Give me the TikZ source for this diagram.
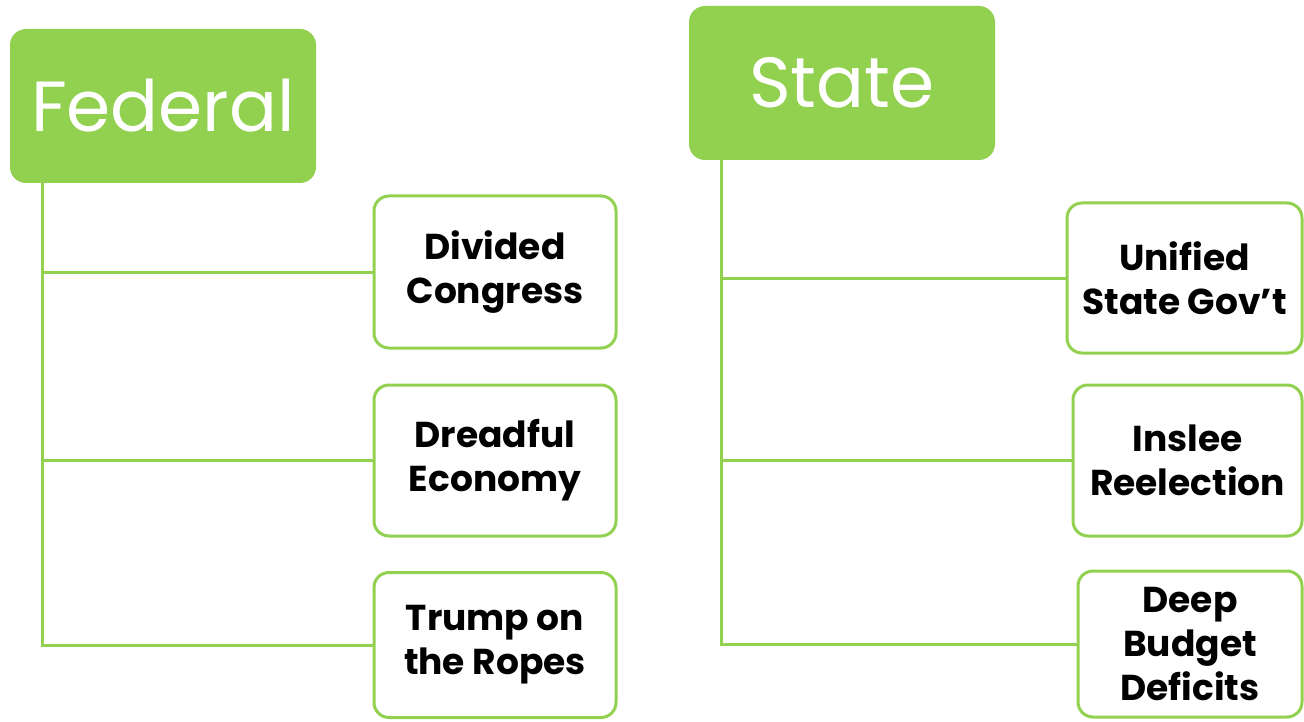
\documentclass[tikz,border=0pt]{standalone}
\usepackage{fontspec}
\setmainfont{Poppins}
\definecolor{grn}{RGB}{146,208,80}
\begin{document}
\begin{tikzpicture}[x=1pt,y=-1pt,
 head/.style={fill=grn, rounded corners=16pt, text=white, font=\fontsize{71}{75}\selectfont, inner sep=0pt},
 item/.style={draw=grn, line width=3pt, rounded corners=15pt, fill=white, align=center, font=\bfseries\fontsize{36}{44}\selectfont, inner sep=0pt},
 conn/.style={draw=grn, line width=3pt}]
\useasboundingbox (0,0) rectangle (1304,722);
\node[head, minimum width=306pt, minimum height=154pt] (fed) at (163,106) {Federal};
\node[head, minimum width=306pt, minimum height=154pt] (st) at (842,83) {State};
\coordinate (fb) at (42,183);
\coordinate (sb) at (721,160);
\node[item, minimum width=242pt, minimum height=152pt] (f1) at (495,272) {Divided\\Congress};
\node[item, minimum width=242pt, minimum height=151pt] (f2) at (495,460.5) {Dreadful\\Economy};
\node[item, minimum width=242pt, minimum height=145pt] (f3) at (495,645) {Trump on\\the Ropes};
\node[item, minimum width=235pt, minimum height=150pt] (s1) at (1184.5,278) {Unified\\State Gov’t};
\node[item, minimum width=229pt, minimum height=151pt] (s2) at (1187.5,460.5) {Inslee\\Reelection};
\node[item, minimum width=224pt, minimum height=146pt] (s3) at (1190,644) {Deep\\Budget\\Deficits};
\draw[conn] (fb) |- (f3.west);
\draw[conn] (f1.west) -| (fb);
\draw[conn] (f2.west) -| (fb);
\draw[conn] (sb) |- (s3.west);
\draw[conn] (s1.west) -| (sb);
\draw[conn] (s2.west) -| (sb);
\end{tikzpicture}
\end{document}
